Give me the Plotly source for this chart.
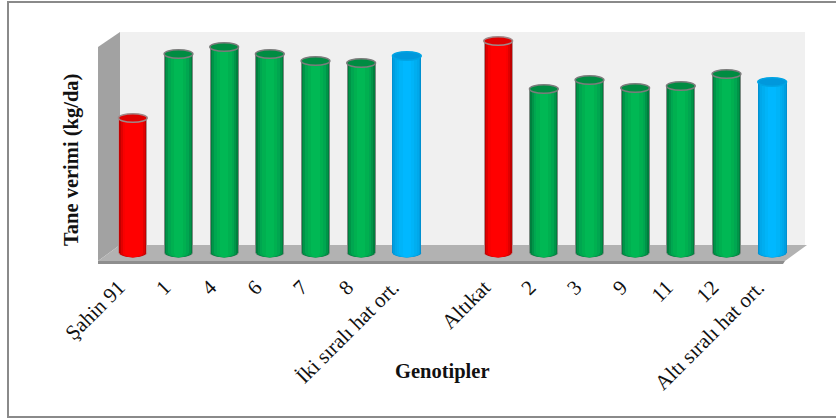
import plotly.graph_objects as go

categories = ["Şahin 91", "1", "4", "6", "7", "8", "İki sıralı hat ort.", " ",
              "Altıkat", "2", "3", "9", "11", "12", "Altı sıralı hat ort."]
# Estimated grain yield (kg/da)
yields = [270, 398, 412, 398, 384, 380, 394, None, 424, 328, 346, 330, 334, 358, 342]
kinds = ["red", "green", "green", "green", "green", "green", "blue", None,
         "red", "green", "green", "green", "green", "green", "blue"]

W, H = 836, 418
L, R, T, B = 110, 795, 33, 253
YMAX = 440
BAR = 0.63
CAP_H = 17  # cap ellipse total height in value units

# Edge-to-centre shading of the cylinders
SHADES = {
    "red":   ["#b09090", "#c00000", "#e00000", "#f80000", "#ff0000", "#ff0000"],
    "green": ["#7c8a82", "#007f3e", "#009448", "#00a650", "#00b050", "#00b854"],
    "blue":  ["#0090d0", "#009ee0", "#00a8ea", "#00aef0", "#00b4f8", "#00b8ff"],
}
FRACS = [1.0, 0.93, 0.84, 0.7, 0.52, 0.3]
OUTLINE = {"red": "#a08888", "green": "#7c7c7c", "blue": "#00a4e4"}
CAP = {"red": "#e00000", "green": "#008c42", "blue": "#0098dc"}

pxx = lambda a: (a - L) / (R - L)
pyy = lambda b: (B - b) / (B - T)


def poly_plot(points, fill):
    path = "M " + " L ".join(f"{pxx(a):.4f},{pyy(b):.4f}" for a, b in points) + " Z"
    return dict(type="path", xref="paper", yref="paper", path=path,
                fillcolor=fill, line=dict(width=0), layer="below")


shapes = [
    poly_plot([(120, 32), (805, 32), (805, 245), (120, 245)], "#f0f0f0"),
    poly_plot([(98, 47), (120, 32), (120, 245), (98, 261)], "#a2a2a2"),
    poly_plot([(120, 245), (807, 245), (785, 261), (98, 261)], "#b2b2b2"),
    poly_plot([(98, 261), (785, 261), (783, 264), (98, 264)], "#8e8e8e"),
]

fig = go.Figure()

for j, frac in enumerate(FRACS):
    colors = [SHADES[k][j] if k else "rgba(0,0,0,0)" for k in kinds]
    fig.add_bar(x=categories, y=yields, width=BAR * frac,
                marker=dict(color=colors, line=dict(width=0)), hoverinfo="skip",
                showlegend=False)
    # rounded bottoms follow the same shading, under the bars
    for i, (val, k) in enumerate(zip(yields, kinds)):
        if val is None:
            continue
        hw = BAR * frac / 2
        shapes.append(dict(type="circle", xref="x", yref="paper", layer="below",
                           x0=i - hw, x1=i + hw,
                           y0=-CAP_H / 2 / YMAX, y1=CAP_H / 2 / YMAX,
                           fillcolor=SHADES[k][j], line=dict(width=0)))

# Top caps
for i, (val, k) in enumerate(zip(yields, kinds)):
    if val is None:
        continue
    hw = BAR / 2
    shapes.append(dict(type="circle", xref="x", yref="y", layer="above",
                       x0=i - hw, x1=i + hw, y0=val - CAP_H / 2, y1=val + CAP_H / 2,
                       fillcolor=CAP[k], line=dict(width=1.5, color=OUTLINE[k])))

# Outer frame
frame = "#8a8a8a"
shapes.append(dict(type="line", xref="paper", yref="paper", layer="below",
                   x0=pxx(8), x1=pxx(836), y0=pyy(2), y1=pyy(2),
                   line=dict(width=2, color=frame)))
shapes.append(dict(type="line", xref="paper", yref="paper", layer="below",
                   x0=pxx(8), x1=pxx(8), y0=pyy(1), y1=pyy(418),
                   line=dict(width=2, color=frame)))
shapes.append(dict(type="line", xref="paper", yref="paper", layer="below",
                   x0=pxx(8), x1=pxx(836), y0=pyy(417), y1=pyy(417),
                   line=dict(width=2, color=frame)))

serif = "Liberation Serif"
fig.update_layout(
    width=W, height=H, autosize=False,
    margin=dict(l=L, r=W - R, t=T, b=H - B),
    paper_bgcolor="white", plot_bgcolor="rgba(0,0,0,0)",
    barmode="overlay", bargap=0, showlegend=False,
    shapes=shapes,
    xaxis=dict(type="category", categoryorder="array", categoryarray=categories,
               range=[-0.5, 14.5], showgrid=False, zeroline=False, showline=False,
               ticks="", tickangle=-45, ticklabelstandoff=17, ticklabelshift=-14,
               tickfont=dict(family=serif, size=21, color="#111111"), automargin=False),
    yaxis=dict(range=[0, YMAX], showgrid=False, zeroline=False, showline=False,
               showticklabels=False, ticks="", automargin=False),
    annotations=[
        dict(text="<b>Tane verimi (kg/da)</b>", xref="paper", yref="paper",
             x=pxx(71), y=pyy(160), xanchor="center", yanchor="middle",
             textangle=-90, showarrow=False,
             font=dict(family=serif, size=20.5, color="#111111")),
        dict(text="<b>Genotipler</b>", xref="paper", yref="paper",
             x=pxx(442), y=pyy(371), xanchor="center", yanchor="middle",
             showarrow=False,
             font=dict(family=serif, size=20.5, color="#111111")),
    ],
)
fig.write_html("out.html", config={"displayModeBar": False},
               post_script="document.body.style.margin='0';")
